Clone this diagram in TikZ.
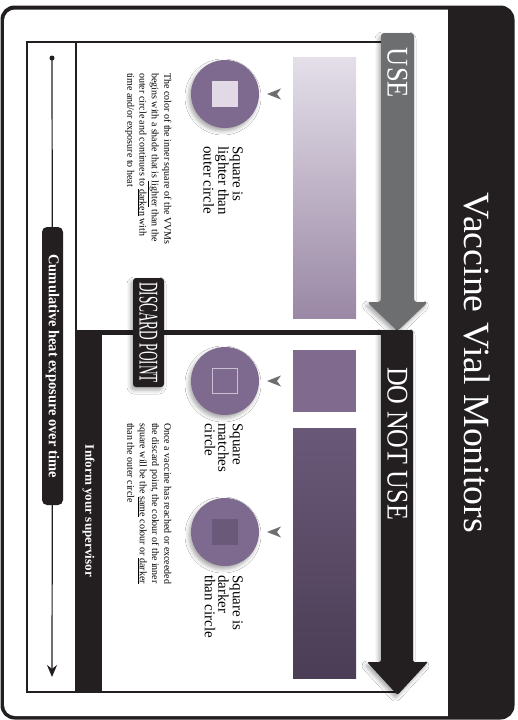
\documentclass[tikz,border=0pt]{standalone}
\usepackage{fontspec}
\setmainfont{Liberation Serif}
\usepackage{graphicx}
\usetikzlibrary{arrows.meta,shadows.blur}
\definecolor{ink}{HTML}{231F20}
\definecolor{grayarrow}{HTML}{6D6E70}
\definecolor{vvm}{HTML}{7E6A8E}
\definecolor{vvmlight}{HTML}{E1DAE6}
\definecolor{vvmdark}{HTML}{6A5979}
\definecolor{vvmedge}{HTML}{C9BFD2}
\definecolor{usetop}{HTML}{E4DFE9}
\definecolor{usebot}{HTML}{9A88A5}
\definecolor{dnutop}{HTML}{6A5878}
\definecolor{dnubot}{HTML}{4B3D55}
\definecolor{matchc}{HTML}{806B8F}
\newcommand\fitw[2]{\resizebox{#1}{\height}{#2}}
\begin{document}
\begin{tikzpicture}[x=1pt,y=-1pt,
  rtext/.style={rotate=-90, inner sep=0pt},
  vshadow/.style={blur shadow={shadow xshift=-2pt, shadow yshift=-3pt, shadow blur radius=4pt, shadow opacity=35}},
  vvmcircle/.style={circle, fill=vvm, minimum size=68pt, inner sep=0pt, vshadow},
  vvmsquare/.style={minimum size=26pt, inner sep=0pt},
  sqtext/.style={rtext, anchor=north west, align=left, font=\fontsize{15}{13.5}\selectfont},
  partext/.style={rtext, anchor=north west, align=left, font=\fontsize{10}{12.3}\selectfont},
  frame/.style={draw=ink, line width=1.3pt},
  marker/.style={fill=grayarrow}
]
\useasboundingbox (0,0) rectangle (518,720);
% card background
\fill[ink, rounded corners=14pt] (0.5,5.5) rectangle (514.5,719.5);
\fill[white, rounded corners=11pt] (460,9.5) -- (4,9.5) -- (4,716) -- (460,716) -- cycle;
\fill[ink] (448,9) rectangle (470,717);
\node[rtext, text=white, font=\fontsize{37}{40}\selectfont] (title) at (477.5,363) {\fitw{340pt}{Vaccine Vial Monitors}};

% inner frame
\draw[frame] (27,42) rectangle (397,692);
\draw[frame] (76,42) -- (76,692);
\fill[ink] (75,330) rectangle (102,692);
\fill[ink] (75,330) rectangle (400,335);

% colour bars
\shade[top color=usetop, bottom color=usebot] (293,57) rectangle (356,318);
\fill[matchc] (293,350) rectangle (356,412);
\shade[top color=dnutop, bottom color=dnubot] (293,428) rectangle (356,678);

% USE arrow
\fill[grayarrow, rounded corners=3pt, vshadow] (381,302) -- (381,33) -- (414,33) -- (414,302) -- (428,302) -- (397.5,331) -- (367,302) -- cycle;
\node[rtext, text=white, font=\fontsize{30}{32}\selectfont] (use) at (397.5,73) {\fitw{50pt}{USE}};

% DO NOT USE arrow
\fill[ink, rounded corners=2pt, vshadow] (381,330) -- (413,330) -- (413,662) -- (428,662) -- (397.5,695) -- (367,662) -- (381,662) -- cycle;
\node[rtext, text=white, font=\fontsize{30}{32}\selectfont] (dnu) at (397.5,443.5) {\fitw{153pt}{DO NOT USE}};

% markers
\foreach \yy in {94,381,532} {
  \fill[marker] (267,\yy) -- (281,\yy-5.5) -- (277,\yy) -- (281,\yy+5.5) -- cycle;
}

% VVM circles
\node[vvmcircle] (c1) at (225,94) {};
\node[vvmsquare, fill=vvmlight] (s1) at (c1) {};
\node[vvmcircle] (c2) at (225,381) {};
\node[vvmsquare, fill=vvm, draw=vvmedge, line width=0.8pt, minimum size=25pt] (s2) at (c2) {};
\node[vvmcircle] (c3) at (225,532) {};
\node[vvmsquare, fill=vvmdark] (s3) at (c3) {};

% labels
\node[sqtext] (l1) at (243,146) {Square is\\lighter than\\outer circle};
\node[sqtext] (l2) at (243,423) {Square\\matches\\circle};
\node[sqtext] (l3) at (243,575) {Square is\\darker\\than circle};

\node[partext] (p1) at (171.5,73) {The color of the inner square of the VVMs\\begins with a shade that is \underline{lighter} than the\\outer circle and continues to \underline{darken} with\\time and/or exposure to heat};
\node[partext] (p2) at (171.5,423) {Once a vaccine has reached or exceeded\\the discard point, the colour of the inner\\square will be the \underline{same} colour or \underline{darker}\\than the outer circle};

% discard point
\node[rtext, fill=ink, text=white, rounded corners=3pt, minimum width=109pt, minimum height=31pt, font=\fontsize{27}{30}\selectfont, vshadow] (discard) at (148.5,332.5) {\fitw{101pt}{DISCARD POINT}};

% inform
\node[rtext, text=white, font=\bfseries\fontsize{13}{15}\selectfont] (inform) at (88.5,511) {\fitw{132pt}{Inform your supervisor}};

% timeline
\node[rtext, fill=ink, text=white, rounded corners=5pt, minimum width=278pt, minimum height=21pt, font=\bfseries\fontsize{15}{17}\selectfont] (cum) at (52.5,366) {\fitw{223pt}{Cumulative heat exposure over time}};
\coordinate (tstart) at (52,58);
\coordinate (tend) at (52,677);
\fill[ink] (tstart) circle (2.5pt);
\draw[ink, line width=1.2pt] (tstart) -- (cum);
\draw[ink, line width=1.2pt, -{Stealth[length=12pt,width=10pt]}] (cum) -- (tend);
\end{tikzpicture}
\end{document}
